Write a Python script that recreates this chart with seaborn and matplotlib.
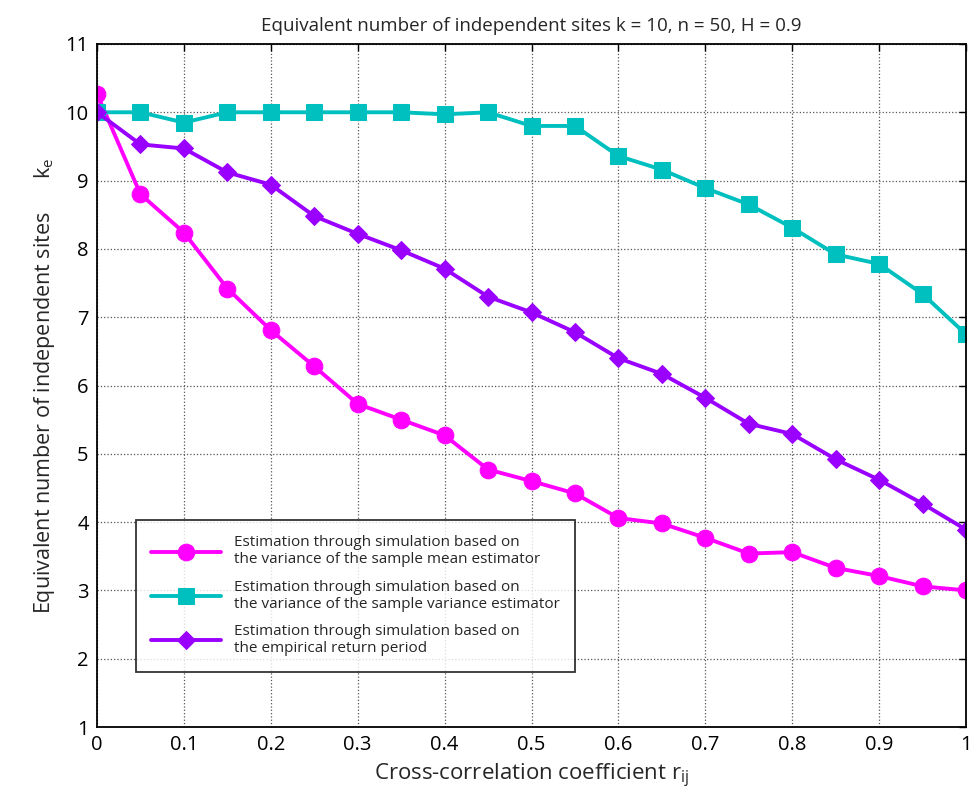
import numpy as np
import pandas as pd
import matplotlib
matplotlib.use("Agg")
import matplotlib.pyplot as plt
import seaborn as sns

# Cross-correlation coefficient values
r = [0.0, 0.05, 0.1, 0.15, 0.2, 0.25, 0.3, 0.35, 0.4, 0.45, 0.5,
     0.55, 0.6, 0.65, 0.7, 0.75, 0.8, 0.85, 0.9, 0.95, 1.0]

# Equivalent number of independent sites for each estimation method
ke_mean = [10.27, 8.80, 8.24, 7.42, 6.81, 6.28, 5.73, 5.50, 5.27, 4.77, 4.60,
           4.42, 4.06, 3.98, 3.77, 3.54, 3.56, 3.33, 3.21, 3.06, 3.00]
ke_variance = [10.0, 10.0, 9.85, 10.0, 10.0, 10.0, 10.0, 10.0, 9.97, 10.0, 9.80,
               9.80, 9.36, 9.16, 8.89, 8.65, 8.31, 7.92, 7.78, 7.34, 6.75]
ke_return = [10.0, 9.53, 9.47, 9.12, 8.94, 8.48, 8.22, 7.98, 7.71, 7.30, 7.07,
             6.78, 6.40, 6.17, 5.82, 5.44, 5.29, 4.92, 4.62, 4.27, 3.89]

labels = [
    "Estimation through simulation based on\nthe variance of the sample mean estimator",
    "Estimation through simulation based on\nthe variance of the sample variance estimator",
    "Estimation through simulation based on\nthe empirical return period",
]
colors = ["#FF00FF", "#00BFBF", "#9900FF"]
markers = ["o", "s", "D"]
msizes = [12, 12, 9.5]

x_ticks = [0, 0.1, 0.2, 0.3, 0.4, 0.5, 0.6, 0.7, 0.8, 0.9, 1]
x_ticklabels = ["0", "0.1", "0.2", "0.3", "0.4", "0.5", "0.6", "0.7", "0.8", "0.9", "1"]
y_ticks = list(range(1, 12))

sns.set_theme(style="white")
plt.rcParams["font.family"] = ["Open Sans", "DejaVu Sans"]

fig = plt.figure(figsize=(9.74, 8.07), dpi=100)
ax = fig.add_axes([0.0996, 0.0991, 0.8922, 0.8464])

for vals, lab, c, m, ms in zip([ke_mean, ke_variance, ke_return], labels, colors, markers, msizes):
    df = pd.DataFrame({"r": r, "ke": vals})
    sns.lineplot(data=df, x="r", y="ke", ax=ax, color=c, marker=m, markersize=ms,
                 markeredgecolor=c, linewidth=2.8, label=lab)

ax.set_xlim(0, 1)
ax.set_ylim(1, 11)
ax.set_xticks(x_ticks)
ax.set_xticklabels(x_ticklabels)
ax.set_yticks(y_ticks)
ax.tick_params(axis="both", direction="in", top=True, right=True, length=5,
               width=1, colors="black", labelsize=14.5, pad=6)
ax.grid(True, color="#555555", linestyle=":", linewidth=0.9)
for sp in ax.spines.values():
    sp.set_color("black")
    sp.set_linewidth(1.3)

ax.set_title("Equivalent number of independent sites k = 10, n = 50, H = 0.9",
             fontsize=13.5, pad=9)
ax.set_xlabel("Cross-correlation coefficient r$_{\\mathregular{ij}}$", fontsize=16, labelpad=5)
ax.set_ylabel("Equivalent number of independent sites      k$_{\\mathregular{e}}$",
              fontsize=15.5, labelpad=6)

leg = ax.legend(loc="lower left", bbox_to_anchor=(0.036, 0.07), fontsize=11,
                handlelength=4.6, frameon=True, fancybox=False, borderpad=1.0,
                labelspacing=0.8, handletextpad=0.8)
leg.get_frame().set_edgecolor("black")
leg.get_frame().set_linewidth(1.3)

fig.savefig("out.png", dpi=100)
